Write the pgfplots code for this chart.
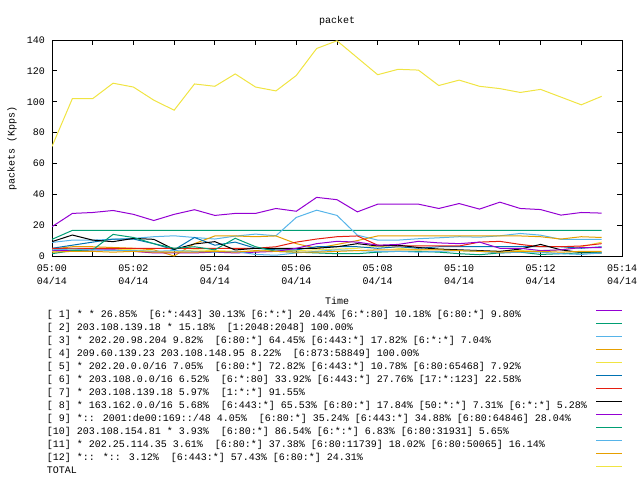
\documentclass[border=0pt]{standalone}
\usepackage{fontspec}
\setmainfont{Liberation Mono}
\usepackage{pgfplots}
\usepackage{pgfplotstable}
\pgfplotsset{compat=1.18}

% gnuplot default line colours
\definecolor{gpurple}{HTML}{9400D3}
\definecolor{gteal}{HTML}{009E73}
\definecolor{gsky}{HTML}{56B4E9}
\definecolor{gorange}{HTML}{E69F00}
\definecolor{gyellow}{HTML}{F0E442}
\definecolor{gblue}{HTML}{0072B2}
\definecolor{gred}{HTML}{E51E10}

% minutes after 05:00, Kpps
\pgfplotstableread{
t    s1   s2   s3   s4   s5   s6   s7   s8   s9   s10  s11  s12  total
0    19.0 10.8 8.8  4.5  3.0  5.0  5.0  9.3  3.5  1.5  4.0  2.5  71.0
0.5  27.6 16.6 10.3 6.0  4.0  7.0  5.0  13.6 3.5  3.5  4.5  3.0  102.0
1    28.2 16.6 10.3 6.0  5.0  9.0  5.0  10.3 4.0  4.0  4.0  3.0  102.0
1.5  29.5 16.6 10.8 5.5  4.5  11.0 5.0  9.3  4.0  14.0 3.5  2.5  112.0
2    27.0 16.6 11.4 5.0  4.0  11.0 5.0  11.4 3.0  12.0 3.5  3.0  109.5
2.5  23.0 16.6 12.5 4.0  3.0  8.0  5.0  10.8 2.0  8.0  3.0  2.5  101.0
3    27.0 16.6 13.1 0.0  2.5  4.0  5.0  4.3  2.0  5.0  3.5  2.5  94.5
3.5  30.0 16.6 12.0 8.0  4.0  12.0 5.0  7.8  2.0  6.0  3.0  2.5  111.5
4    26.3 16.6 11.0 13.0 3.5  7.0  5.0  9.3  2.5  4.0  2.5  3.0  110.0
4.5  27.6 16.6 12.9 13.0 3.0  9.0  5.0  3.9  2.0  11.5 3.0  2.5  118.0
5    27.6 16.6 14.2 12.5 3.0  5.0  5.0  5.0  2.5  6.0  1.0  3.5  109.5
5.5  30.8 16.6 13.1 13.0 4.0  4.0  6.0  5.0  3.0  3.0  0.5  3.0  107.0
6    29.0 16.6 25.0 8.0  3.5  4.0  9.0  5.0  5.0  2.5  2.0  2.5  117.0
6.5  38.0 16.6 29.7 5.0  4.0  6.0  11.0 5.0  8.0  2.0  3.0  2.5  134.5
7    36.5 16.6 26.3 7.5  4.5  6.0  12.5 6.0  9.5  1.5  4.0  3.0  139.5
7.5  28.6 16.6 13.5 10.0 5.0  6.0  13.0 8.0  9.0  1.5  3.5  3.5  128.5
8    33.6 16.6 10.3 13.0 6.5  5.0  7.0  6.5  7.0  2.5  3.0  4.0  117.5
8.5  33.6 16.6 10.3 13.0 5.0  6.0  6.5  7.0  7.5  3.0  3.0  4.0  121.0
9    33.6 16.6 11.2 13.0 4.0  5.0  6.5  5.5  9.5  3.0  2.5  4.0  120.5
9.5  30.8 16.6 11.8 13.0 4.5  6.0  6.5  4.5  8.5  2.5  3.0  4.0  110.5
10   34.0 16.6 12.5 13.0 3.5  6.0  6.5  4.0  8.0  1.5  3.5  3.5  114.0
10.5 30.4 16.6 12.2 13.0 3.0  6.0  9.0  3.5  9.0  0.8  3.0  3.0  110.0
11   34.9 16.6 13.1 13.0 3.0  6.0  9.5  3.0  5.0  2.0  2.0  2.5  108.5
11.5 30.8 16.6 14.6 13.0 3.5  6.0  7.5  4.5  5.0  2.5  2.5  3.0  106.0
12   30.1 16.6 13.5 12.5 3.0  6.0  6.0  7.5  3.5  1.0  2.5  3.0  108.0
12.5 26.5 16.6 10.8 11.0 4.0  6.0  6.0  4.0  4.0  1.5  1.5  2.5  103.0
13   28.2 16.6 10.8 12.5 6.0  5.0  6.5  2.2  5.5  2.0  1.0  3.0  98.0
13.5 27.8 16.6 10.8 12.0 9.0  6.0  8.0  2.0  5.5  2.0  2.0  3.0  103.5
}\traffic

\newcommand{\legtxt}[1]{\makebox[549pt][l]{#1}}

\begin{document}
\fontsize{10}{13}\selectfont
\begin{tikzpicture}
\useasboundingbox (0,0) rectangle (640pt,480pt);
\begin{axis}[
  at={(52pt,224pt)}, anchor=south west,
  scale only axis, width=570pt, height=216pt,
  xmin=0, xmax=14, ymin=0, ymax=140,
  xtick={0,...,14},
  xticklabels={{05:00\\04/14},{},{05:02\\04/14},{},{05:04\\04/14},{},
    {05:06\\04/14},{},{05:08\\04/14},{},{05:10\\04/14},{},
    {05:12\\04/14},{},{05:14\\04/14}},
  xticklabel style={align=center, font=\fontsize{10}{13}\selectfont, inner sep=0pt, yshift=-9pt},
  ytick={0,20,...,140},
  yticklabel style={inner sep=0pt, xshift=-7pt},
  /pgf/number format/assume math mode=true,
  tick align=inside, major tick length=5pt,
  every tick/.style={black, line width=1pt},
  axis line style={line width=1pt},
  title={packet},
  title style={at={(axis description cs:0.5,1.092)}, anchor=center, yshift=-7pt, inner sep=0pt},
  xlabel={Time},
  xlabel style={at={(axis description cs:0.5,-0.21)}, anchor=center, inner sep=0pt},
  ylabel={packets (Kpps)},
  ylabel style={at={(axis description cs:-0.0702,0.5)}, anchor=center, inner sep=0pt},
  every axis plot/.append style={line width=1pt, mark=none},
  legend style={at={(axis description cs:-0.0088,-0.245)}, anchor=north west,
    draw=none, fill=none, inner sep=0pt, outer sep=0pt, row sep=0pt, column sep=0pt,
    nodes={inner sep=0pt, text height=9pt, text depth=4pt}},
  legend cell align=left,
  legend plot pos=right,
  legend image code/.code={\draw[#1] (0pt,5pt) -- (26pt,5pt);},
]
\addplot[gpurple] table[x=t, y=s1] {\traffic};
\addlegendentry{\legtxt{[ 1] * * 26.85\%~ [6:*:443] 30.13\% [6:*:*] 20.44\% [6:*:80] 10.18\% [6:80:*] 9.80\%}}
\addplot[gteal] table[x=t, y=s2] {\traffic};
\addlegendentry{\legtxt{[ 2] 203.108.139.18 * 15.18\%~ [1:2048:2048] 100.00\%}}
\addplot[gsky] table[x=t, y=s3] {\traffic};
\addlegendentry{\legtxt{[ 3] * 202.20.98.204 9.82\%~ [6:80:*] 64.45\% [6:443:*] 17.82\% [6:*:*] 7.04\%}}
\addplot[gorange] table[x=t, y=s4] {\traffic};
\addlegendentry{\legtxt{[ 4] 209.60.139.23 203.108.148.95 8.22\%~ [6:873:58849] 100.00\%}}
\addplot[gyellow] table[x=t, y=s5] {\traffic};
\addlegendentry{\legtxt{[ 5] * 202.20.0.0/16 7.05\%~ [6:80:*] 72.82\% [6:443:*] 10.78\% [6:80:65468] 7.92\%}}
\addplot[gblue] table[x=t, y=s6] {\traffic};
\addlegendentry{\legtxt{[ 6] * 203.108.0.0/16 6.52\%~ [6:*:80] 33.92\% [6:443:*] 27.76\% [17:*:123] 22.58\%}}
\addplot[gred] table[x=t, y=s7] {\traffic};
\addlegendentry{\legtxt{[ 7] * 203.108.139.18 5.97\%~ [1:*:*] 91.55\%}}
\addplot[black] table[x=t, y=s8] {\traffic};
\addlegendentry{\legtxt{[ 8] * 163.162.0.0/16 5.68\%~ [6:443:*] 65.53\% [6:80:*] 17.84\% [50:*:*] 7.31\% [6:*:*] 5.28\%}}
\addplot[gpurple] table[x=t, y=s9] {\traffic};
\addlegendentry{\legtxt{[ 9] *:: 2001:de00:169::/48 4.05\%~ [6:80:*] 35.24\% [6:443:*] 34.88\% [6:80:64846] 28.04\%}}
\addplot[gteal] table[x=t, y=s10] {\traffic};
\addlegendentry{\legtxt{[10] 203.108.154.81 * 3.93\%~ [6:80:*] 86.54\% [6:*:*] 6.83\% [6:80:31931] 5.65\%}}
\addplot[gsky] table[x=t, y=s11] {\traffic};
\addlegendentry{\legtxt{[11] * 202.25.114.35 3.61\%~ [6:80:*] 37.38\% [6:80:11739] 18.02\% [6:80:50065] 16.14\%}}
\addplot[gorange] table[x=t, y=s12] {\traffic};
\addlegendentry{\legtxt{[12] *:: *:: 3.12\%~ [6:443:*] 57.43\% [6:80:*] 24.31\%}}
\addplot[gyellow] table[x=t, y=total] {\traffic};
\addlegendentry{\legtxt{TOTAL}}
\end{axis}
\end{tikzpicture}
\end{document}
